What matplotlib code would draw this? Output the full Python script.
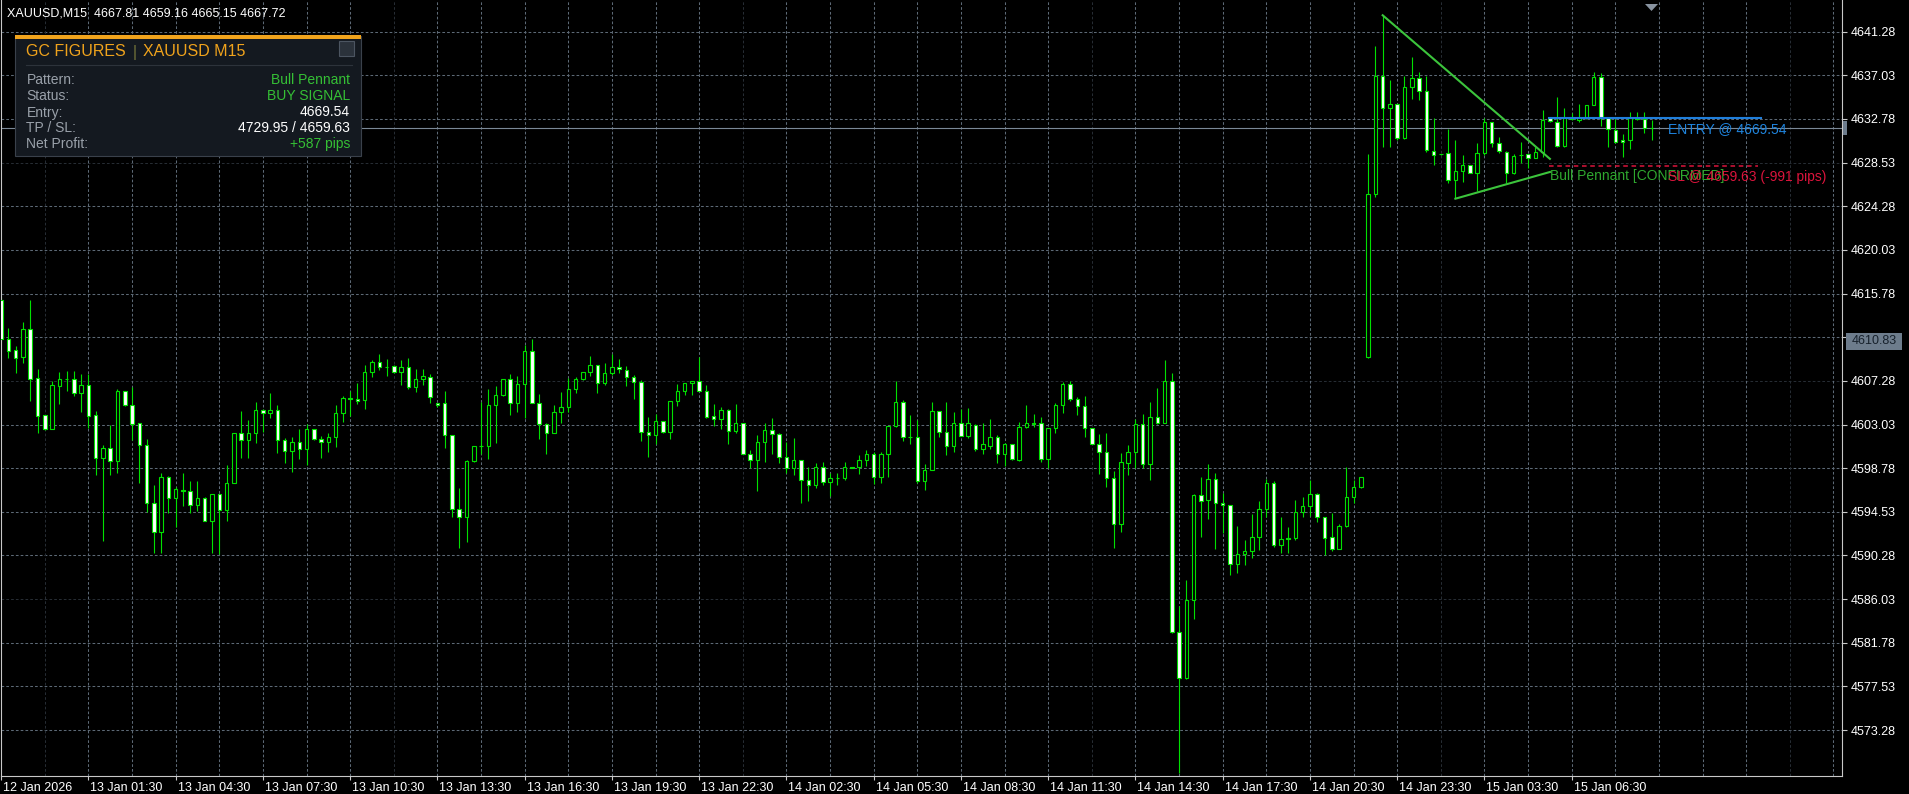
import numpy as np
import matplotlib.pyplot as plt
from matplotlib.patches import Rectangle, Polygon
from matplotlib.lines import Line2D
from matplotlib.transforms import ScaledTranslation

plt.rcParams['font.family'] = ['Liberation Sans', 'DejaVu Sans']

W, H, DPI = 1909, 794, 100

# M15 candles
opens = [
    4615.15, 4611.32, 4610.25, 4609.57, 4612.33, 4607.52, 4603.92, 4602.62, 4606.81, 4607.50,
    4607.49, 4606.13, 4606.84, 4603.92, 4599.80, 4600.71, 4599.51, 4606.26, 4604.90, 4603.14,
    4601.00, 4595.35, 4592.53, 4597.95, 4595.84, 4596.65, 4596.59, 4595.16, 4595.84, 4593.60,
    4596.23, 4594.71, 4597.30, 4602.17, 4601.49, 4602.17, 4604.44, 4604.12, 4604.44, 4601.52,
    4600.42, 4601.29, 4600.61, 4602.59, 4601.59, 4601.36, 4601.85, 4604.12, 4605.58, 4605.51,
    4605.42, 4608.11, 4609.08, 4608.66, 4608.69, 4608.12, 4608.67, 4606.66, 4607.43, 4607.69,
    4605.10, 4605.10, 4601.98, 4594.77, 4594.00, 4599.45, 4600.91, 4600.91, 4604.90, 4605.87,
    4607.43, 4605.16, 4606.95, 4610.16, 4605.16, 4603.12, 4602.24, 4604.22, 4604.71, 4606.46,
    4607.43, 4608.12, 4608.80, 4607.05, 4608.02, 4608.60, 4608.34, 4607.63, 4607.14, 4602.27,
    4601.98, 4603.34, 4602.27, 4605.29, 4606.26, 4607.05, 4607.24, 4606.30, 4603.83, 4603.54,
    4604.41, 4602.37, 4603.15, 4600.20, 4599.54, 4601.30, 4602.47, 4602.08, 4599.84, 4598.77,
    4599.54, 4597.60, 4597.17, 4598.86, 4597.40, 4597.85, 4597.85, 4598.86, 4598.86, 4599.58,
    4600.13, 4597.89, 4600.13, 4602.89, 4605.19, 4601.85, 4601.78, 4597.56, 4598.60, 4604.31,
    4602.33, 4600.97, 4603.15, 4601.94, 4603.02, 4600.61, 4600.97, 4601.85, 4600.13, 4601.10,
    4599.54, 4602.76, 4603.15, 4603.15, 4599.64, 4602.66, 4604.90, 4606.98, 4605.48, 4604.83,
    4602.66, 4601.13, 4600.39, 4597.79, 4593.31, 4599.25, 4600.39, 4603.05, 4599.15, 4603.73,
    4603.21, 4607.27, 4582.86, 4578.32, 4585.94, 4596.14, 4595.65, 4597.69, 4595.36, 4595.16,
    4589.42, 4590.39, 4590.75, 4592.05, 4594.77, 4597.30, 4591.27, 4591.95, 4591.95, 4594.48,
    4595.06, 4596.23, 4593.99, 4592.05, 4590.94, 4593.15, 4595.94, 4596.91, 4609.57, 4625.45,
    4637.00, 4633.82, 4634.21, 4630.90, 4635.86, 4636.74, 4635.51, 4629.66, 4629.37, 4629.44,
    4626.84, 4627.75, 4628.27, 4627.55, 4629.44, 4632.45, 4630.41, 4629.60, 4627.49, 4629.27,
    4629.34, 4629.01, 4629.60, 4632.84, 4632.52, 4630.18, 4632.91, 4632.68, 4632.84, 4634.11,
    4636.84, 4632.84, 4631.71, 4630.73, 4630.73, 4632.84, 4632.78, 4631.87,
]
highs = [
    4615.48, 4612.39, 4610.67, 4613.00, 4615.15, 4608.43, 4604.00, 4607.27, 4608.10, 4608.24,
    4608.24, 4607.91, 4607.91, 4604.34, 4601.03, 4603.01, 4606.49, 4606.30, 4606.65, 4603.20,
    4601.59, 4597.14, 4598.28, 4598.00, 4596.98, 4598.28, 4597.50, 4597.50, 4596.00, 4596.25,
    4596.30, 4599.05, 4602.20, 4604.34, 4603.47, 4605.22, 4604.50, 4606.06, 4604.90, 4601.72,
    4601.78, 4602.59, 4603.08, 4602.62, 4601.91, 4602.23, 4604.93, 4605.81, 4606.29, 4607.10,
    4608.82, 4609.31, 4609.89, 4609.41, 4608.80, 4609.32, 4609.48, 4608.41, 4608.41, 4607.95,
    4605.12, 4606.30, 4602.00, 4596.82, 4599.58, 4600.95, 4605.19, 4606.46, 4606.78, 4607.45,
    4607.95, 4607.76, 4610.77, 4611.33, 4606.00, 4603.15, 4604.90, 4606.20, 4607.53, 4607.63,
    4608.15, 4609.71, 4608.82, 4608.99, 4609.90, 4609.38, 4608.73, 4607.86, 4607.37, 4603.80,
    4604.03, 4603.36, 4605.30, 4606.98, 4607.05, 4607.30, 4609.64, 4606.88, 4605.03, 4604.71,
    4604.54, 4605.03, 4603.17, 4600.52, 4601.98, 4603.15, 4603.64, 4602.18, 4601.30, 4601.69,
    4599.55, 4598.93, 4599.25, 4599.38, 4598.28, 4598.28, 4599.38, 4598.90, 4600.06, 4600.55,
    4600.40, 4600.39, 4602.90, 4607.27, 4605.42, 4603.96, 4603.47, 4599.19, 4605.26, 4604.35,
    4605.19, 4604.25, 4604.54, 4604.64, 4603.05, 4603.15, 4603.57, 4602.01, 4601.20, 4601.12,
    4603.28, 4604.93, 4604.06, 4603.73, 4602.70, 4605.09, 4607.14, 4607.27, 4605.68, 4605.81,
    4602.68, 4602.11, 4602.17, 4598.50, 4600.23, 4601.04, 4603.57, 4604.06, 4605.19, 4606.55,
    4609.31, 4608.08, 4585.36, 4587.89, 4596.27, 4597.95, 4599.19, 4598.28, 4596.33, 4595.20,
    4593.15, 4591.79, 4594.32, 4595.55, 4597.69, 4597.56, 4594.06, 4593.02, 4595.68, 4595.94,
    4597.63, 4596.33, 4594.00, 4594.45, 4593.34, 4598.93, 4597.63, 4597.90, 4629.37, 4639.89,
    4642.88, 4636.58, 4634.25, 4636.97, 4638.78, 4637.39, 4636.97, 4632.84, 4629.40, 4631.77,
    4630.73, 4629.24, 4628.30, 4630.41, 4632.84, 4632.50, 4631.06, 4629.62, 4629.34, 4630.57,
    4629.35, 4630.09, 4633.66, 4632.86, 4634.95, 4633.82, 4633.33, 4634.21, 4634.13, 4637.39,
    4637.23, 4632.85, 4632.75, 4631.29, 4633.49, 4633.49, 4633.49, 4632.68,
]
lows = [
    4611.10, 4609.54, 4608.08, 4609.05, 4605.35, 4602.23, 4602.50, 4602.60, 4605.03, 4606.29,
    4605.84, 4604.25, 4602.72, 4598.11, 4591.72, 4598.11, 4598.34, 4604.80, 4601.52, 4597.37,
    4594.54, 4590.55, 4590.55, 4594.38, 4593.08, 4595.13, 4594.38, 4594.61, 4593.60, 4590.55,
    4590.42, 4593.60, 4597.30, 4599.80, 4599.80, 4601.26, 4602.27, 4603.63, 4600.29, 4599.25,
    4598.44, 4599.70, 4599.09, 4601.55, 4599.80, 4600.35, 4600.87, 4603.31, 4603.86, 4604.99,
    4604.57, 4607.62, 4608.34, 4607.78, 4608.00, 4606.88, 4606.46, 4606.23, 4606.88, 4605.16,
    4604.71, 4600.78, 4594.00, 4591.04, 4591.63, 4599.40, 4600.13, 4599.71, 4601.27, 4605.85,
    4603.96, 4604.28, 4603.70, 4605.10, 4601.66, 4600.20, 4602.20, 4603.21, 4604.28, 4606.07,
    4607.40, 4607.76, 4606.07, 4606.88, 4607.86, 4608.02, 4606.78, 4605.52, 4601.46, 4599.90,
    4601.17, 4602.25, 4601.66, 4604.84, 4605.91, 4605.91, 4606.28, 4603.70, 4602.89, 4602.60,
    4601.17, 4602.18, 4600.18, 4598.83, 4596.59, 4599.41, 4600.20, 4599.25, 4598.28, 4598.12,
    4595.36, 4595.62, 4596.88, 4597.14, 4596.07, 4597.14, 4597.63, 4598.80, 4598.21, 4598.99,
    4597.24, 4597.30, 4597.89, 4602.76, 4601.46, 4601.13, 4597.37, 4596.65, 4598.58, 4601.85,
    4600.06, 4600.39, 4601.90, 4601.75, 4600.48, 4600.16, 4600.61, 4599.32, 4599.02, 4599.62,
    4599.50, 4602.70, 4602.82, 4599.41, 4598.76, 4602.17, 4604.18, 4605.35, 4603.96, 4601.85,
    4601.11, 4598.21, 4596.98, 4591.04, 4592.60, 4598.15, 4598.76, 4598.76, 4597.63, 4603.08,
    4603.20, 4582.70, 4569.13, 4578.30, 4584.13, 4592.11, 4593.86, 4590.91, 4592.44, 4588.38,
    4588.61, 4589.35, 4590.00, 4590.81, 4594.06, 4591.07, 4590.49, 4590.49, 4591.79, 4594.06,
    4594.15, 4593.57, 4590.33, 4590.75, 4590.90, 4593.10, 4595.36, 4596.88, 4609.50, 4625.22,
    4630.09, 4630.09, 4630.73, 4630.88, 4634.70, 4634.63, 4629.60, 4628.30, 4629.30, 4626.52,
    4625.06, 4626.68, 4627.50, 4625.77, 4629.27, 4630.09, 4629.44, 4626.58, 4627.45, 4628.46,
    4627.98, 4629.00, 4629.11, 4632.50, 4630.09, 4630.10, 4632.68, 4632.52, 4632.82, 4634.10,
    4632.10, 4630.09, 4630.48, 4629.11, 4629.83, 4632.68, 4631.45, 4630.73,
]
closes = [
    4611.32, 4610.22, 4609.54, 4612.30, 4607.49, 4603.89, 4602.62, 4606.84, 4607.43, 4607.45,
    4606.13, 4606.84, 4603.89, 4599.74, 4600.71, 4599.51, 4606.26, 4604.90, 4603.11, 4601.00,
    4595.35, 4592.53, 4597.95, 4595.84, 4596.72, 4596.60, 4595.16, 4595.84, 4593.60, 4596.23,
    4594.71, 4597.30, 4602.17, 4601.49, 4602.17, 4604.44, 4604.12, 4604.44, 4601.52, 4600.42,
    4601.29, 4600.61, 4602.59, 4601.59, 4601.36, 4601.85, 4604.12, 4605.58, 4605.55, 4605.32,
    4608.11, 4609.15, 4608.60, 4608.60, 4608.11, 4608.67, 4606.66, 4607.43, 4607.72, 4605.74,
    4604.90, 4601.98, 4594.77, 4594.00, 4599.45, 4600.91, 4600.90, 4604.90, 4605.87, 4607.43,
    4605.16, 4606.95, 4610.16, 4605.10, 4603.12, 4602.24, 4604.22, 4604.71, 4606.46, 4607.43,
    4608.12, 4608.80, 4607.05, 4608.02, 4608.60, 4608.41, 4607.63, 4607.14, 4602.27, 4601.98,
    4603.34, 4602.27, 4605.29, 4606.26, 4607.05, 4607.24, 4606.30, 4603.80, 4603.54, 4604.41,
    4602.37, 4603.15, 4600.20, 4599.54, 4601.30, 4602.47, 4602.08, 4599.84, 4598.77, 4599.54,
    4597.60, 4597.17, 4598.86, 4597.40, 4597.79, 4597.82, 4598.86, 4598.84, 4599.58, 4600.13,
    4597.89, 4600.13, 4602.89, 4605.19, 4601.85, 4601.80, 4597.56, 4598.60, 4604.31, 4602.33,
    4600.97, 4603.15, 4601.94, 4603.15, 4600.61, 4601.10, 4601.85, 4600.13, 4601.10, 4599.64,
    4602.82, 4603.15, 4603.13, 4599.64, 4602.66, 4604.90, 4606.98, 4605.48, 4604.83, 4602.66,
    4601.13, 4600.39, 4597.79, 4593.31, 4599.35, 4600.39, 4603.05, 4599.15, 4603.73, 4603.21,
    4607.27, 4582.86, 4578.32, 4585.94, 4596.17, 4595.55, 4597.69, 4595.36, 4595.16, 4589.42,
    4590.39, 4590.68, 4592.05, 4594.77, 4597.30, 4591.27, 4591.92, 4591.93, 4594.48, 4595.06,
    4596.23, 4593.99, 4592.01, 4590.94, 4593.15, 4595.94, 4596.91, 4597.89, 4625.44, 4637.00,
    4633.82, 4634.21, 4630.90, 4635.86, 4636.74, 4635.51, 4629.76, 4629.24, 4629.35, 4626.84,
    4627.75, 4628.27, 4627.55, 4629.44, 4632.45, 4630.41, 4629.66, 4627.49, 4629.21, 4629.25,
    4629.01, 4629.60, 4632.68, 4632.58, 4630.18, 4632.84, 4632.75, 4632.84, 4634.11, 4636.84,
    4632.84, 4631.77, 4630.54, 4630.51, 4632.84, 4632.80, 4631.87, 4631.90,
]

price_ticks = [4641.28, 4637.03, 4632.78, 4628.53, 4624.28, 4620.03, 4615.78, 4611.53,
               4607.28, 4603.03, 4598.78, 4594.53, 4590.28, 4586.03, 4581.78, 4577.53, 4573.28]
faint_levels = [4628.53, 4607.28, 4586.03]

time_bars = list(range(0, 217, 12))
time_labels = ['12 Jan 2026', '13 Jan 01:30', '13 Jan 04:30', '13 Jan 07:30', '13 Jan 10:30',
               '13 Jan 13:30', '13 Jan 16:30', '13 Jan 19:30', '13 Jan 22:30', '14 Jan 02:30',
               '14 Jan 05:30', '14 Jan 08:30', '14 Jan 11:30', '14 Jan 14:30', '14 Jan 17:30',
               '14 Jan 20:30', '14 Jan 23:30', '15 Jan 03:30', '15 Jan 06:30']

header = 'XAUUSD,M15  4667.81 4659.16 4665.15 4667.72'
bid_price = 4631.90
tag_price = 4611.10
tag_text = '4610.83'

# pattern annotation
upper_x, upper_y = [190, 213], [4642.88, 4628.90]
lower_x, lower_y = [200, 213], [4625.02, 4627.62]
entry_price, sl_price = 4632.85, 4628.20
level_span = [212.9, 242.0]

panel_labels = ['Pattern:', 'Status:', 'Entry:', 'TP / SL:', 'Net Profit:']
panel_values = ['Bull Pennant', 'BUY SIGNAL', '4669.54', '4729.95 / 4659.63', '+587 pips']

CANDLE = '#00e000'
GRID = '#5d6976'
GRID_FAINT = '#262c33'
FRAME = '#c8c8c8'
GREEN_TXT = '#35c035'
ORANGE = '#f0a31c'


def fx(x):
    return x / W


def fy(y):
    return 1 - y / H


fig = plt.figure(figsize=(W / DPI, H / DPI), dpi=DPI, facecolor='black')
ax = fig.add_axes([fx(1), 18 / H, 1841 / W, 776 / H], facecolor='black')

n = len(opens)
idx = np.arange(n)
o, h, l, c = (np.array(v) for v in (opens, highs, lows, closes))

# grid
for p in price_ticks:
    ax.axhline(p, color=GRID_FAINT if p in faint_levels else GRID, lw=0.75,
               ls=(0, (2.6, 2.0)), zorder=1)
for i in range(6, 254, 6):
    ax.axvline(i, color=GRID_FAINT if i % 48 == 6 else GRID, lw=0.75,
               ls=(0, (2.6, 2.0)), zorder=1)

ax.axhline(bid_price, color='#7b8896', lw=0.8, zorder=1.5)

# candles: white body = bearish, black body = bullish
ax.vlines(idx, l, h, color=CANDLE, lw=0.8, zorder=2)
face = ['black' if cc >= oo else 'white' for oo, cc in zip(o, c)]
ax.bar(idx, np.abs(c - o), bottom=np.minimum(o, c), width=0.48, color=face,
       edgecolor=CANDLE, linewidth=0.8, zorder=3)

# bull pennant drawing
ax.plot(upper_x, upper_y, color='#3cc43c', lw=1.5, zorder=5)
ax.plot(lower_x, lower_y, color='#3cc43c', lw=1.5, zorder=5)
ax.plot(level_span, [entry_price] * 2, color='#1f7fdc', lw=1.5, zorder=5)
ax.plot([level_span[0], 241.6], [sl_price] * 2, color='#dc143c', lw=1.1,
        ls=(0, (3, 2.4)), zorder=5)
ax.text(229.2, 4631.8, 'ENTRY @ 4669.54', color='#1f84dd', fontsize=10,
        va='center', ha='left', zorder=6)
ax.text(213.0, 4627.26, 'Bull Pennant [CONFIRMED]', color='#2fa82f', fontsize=10,
        va='center', ha='left', zorder=6)
ax.text(229.2, 4627.16, 'SL @ 4659.63 (-991 pips)', color='#dc143c', fontsize=10,
        va='center', ha='left', zorder=7)

ax.set_xlim(-0.02, 253.17)
ax.set_ylim(4641.28 - 744.3 / 10.27, 4641.28 + 31.7 / 10.27)

for side in ('left', 'right', 'bottom'):
    ax.spines[side].set_color(FRAME)
    ax.spines[side].set_linewidth(0.8)
ax.spines['top'].set_visible(False)

ax.yaxis.tick_right()
ax.set_yticks(price_ticks)
ax.set_yticklabels([f'{p:.2f}' for p in price_ticks])
ax.tick_params(axis='y', colors=FRAME, labelcolor='white', labelsize=9,
               length=3.5, width=0.8, pad=2.5)
ax.set_xticks(time_bars)
ax.set_xticklabels(time_labels)
ax.tick_params(axis='x', colors=FRAME, labelcolor='white', labelsize=9,
               length=3, width=0.8, pad=1.5)
shift = ScaledTranslation(2 / DPI, 0, fig.dpi_scale_trans)
for lbl in ax.get_xticklabels():
    lbl.set_horizontalalignment('left')
    lbl.set_transform(lbl.get_transform() + shift)


def box(x0, y0, x1, y1, **kw):
    fig.add_artist(Rectangle((fx(x0), fy(y1)), (x1 - x0) / W, (y1 - y0) / H,
                             transform=fig.transFigure, **kw))


# price tags on the right scale
box(1846, 333, 1902, 350, facecolor='#6d7c8c', edgecolor='none', zorder=10)
fig.text(fx(1874), fy(341.5), tag_text, color='#16202b', fontsize=9,
         ha='center', va='center', zorder=11)
box(1842.5, 121, 1846.5, 135, facecolor='#6d7c8c', edgecolor='none', zorder=10)
fig.add_artist(Polygon([(fx(1645), fy(4)), (fx(1658), fy(4)), (fx(1651.5), fy(11))],
                       closed=True, facecolor='#8893a0', edgecolor='none',
                       transform=fig.transFigure, zorder=10))

fig.text(fx(7), fy(13.5), header, color='white', fontsize=9, va='center', zorder=11)

# info panel
box(15, 36, 361, 156, facecolor='#141920', edgecolor='#3a414b', lw=0.8, zorder=10)
box(15, 35.5, 361, 38.5, facecolor=ORANGE, edgecolor='none', zorder=11)
fig.text(fx(26.5), fy(52), 'GC FIGURES', color=ORANGE, fontsize=11.5, va='center', zorder=12)
fig.text(fx(132.5), fy(52), '|', color='#77773a', fontsize=11.5, va='center', zorder=12)
fig.text(fx(142.7), fy(52), 'XAUUSD M15', color=ORANGE, fontsize=11.5, va='center', zorder=12)
fig.add_artist(Line2D([fx(26), fx(352)], [fy(64.5)] * 2, color='#2d333b', lw=0.8,
                      transform=fig.transFigure, zorder=11))
box(339, 41, 354, 56, facecolor='#2b323b', edgecolor='#4c5561', lw=0.8, zorder=11)

row_y = [80, 96, 112.5, 128, 144]
value_colors = [GREEN_TXT, GREEN_TXT, 'white', 'white', GREEN_TXT]
for y, lab, val, col in zip(row_y, panel_labels, panel_values, value_colors):
    fig.text(fx(26.5), fy(y), lab, color='#9aa1aa', fontsize=10, va='center', zorder=12)
    fig.text(fx(350), fy(y), val, color=col, fontsize=10, va='center', ha='right', zorder=12)

fig.savefig('out.png', dpi=DPI, facecolor='black')
